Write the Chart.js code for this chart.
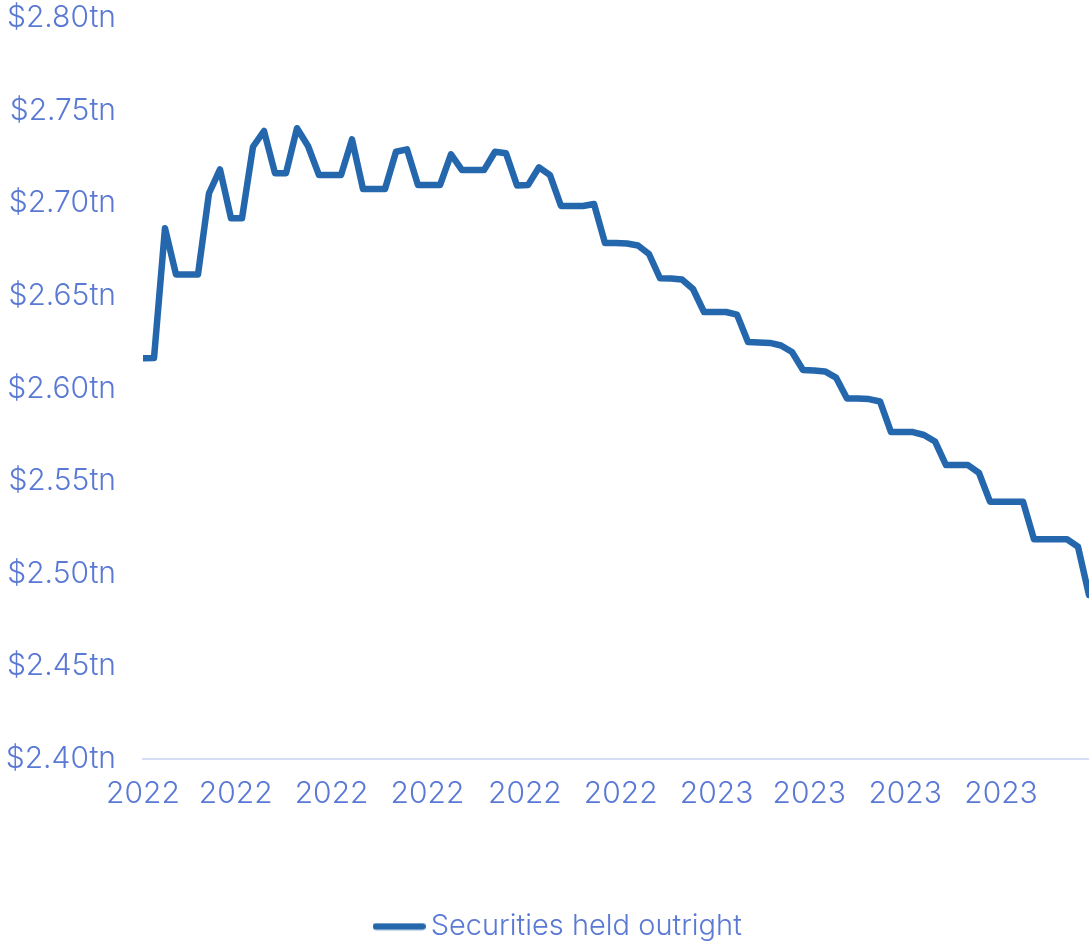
<!DOCTYPE html>
<html>
<head>
<meta charset="utf-8">
<title>Securities held outright</title>
<script src="https://cdn.jsdelivr.net/npm/chart.js@4/dist/chart.umd.min.js"></script>
<style>
    html, body { margin: 0; padding: 0; background: #ffffff; }
    #wrap { position: relative; width: 1089px; height: 944px; }
</style>
</head>
<body>
<div id="wrap"><canvas id="securitiesChart"></canvas></div>
<script>
// Weekly observations, first one on this date
const firstWeek = '2022-01-01';

// Securities held outright, $ trillions, one value per week
const securitiesHeld = [
    2.6163, 2.6165, 2.6865, 2.6616, 2.6616, 2.6616, 2.7054, 2.7183, 2.6919, 2.6919,
    2.7305, 2.7390, 2.7162, 2.7162, 2.7405, 2.7309, 2.7152, 2.7152, 2.7152, 2.7345,
    2.7077, 2.7077, 2.7077, 2.7278, 2.7291, 2.7098, 2.7098, 2.7098, 2.7264, 2.7179,
    2.7179, 2.7179, 2.7278, 2.7270, 2.7096, 2.7098, 2.7194, 2.7152, 2.6985, 2.6985,
    2.6985, 2.6996, 2.6785, 2.6785, 2.6783, 2.6772, 2.6726, 2.6595, 2.6594, 2.6588,
    2.6537, 2.6413, 2.6413, 2.6413, 2.6399, 2.6251, 2.6248, 2.6246, 2.6232, 2.6197,
    2.6100, 2.6097, 2.6092, 2.6059, 2.5946, 2.5946, 2.5943, 2.5930, 2.5765, 2.5765,
    2.5765, 2.5749, 2.5714, 2.5587, 2.5587, 2.5587, 2.5544, 2.5389, 2.5389, 2.5389,
    2.5389, 2.5186, 2.5186, 2.5186, 2.5186, 2.5146, 2.4885
];

// Axis ticks
const tickDates = [
    '2022-01-01', '2022-03-01', '2022-05-01', '2022-07-01', '2022-09-01',
    '2022-11-01', '2023-01-01', '2023-03-01', '2023-05-01', '2023-07-01'
];
const tickYears = ['2022', '2022', '2022', '2022', '2022', '2022', '2023', '2023', '2023', '2023'];
const yTicks = [2.40, 2.45, 2.50, 2.55, 2.60, 2.65, 2.70, 2.75, 2.80];

const DAY = 86400000;
const daysFromStart = d => (Date.parse(d) - Date.parse(firstWeek)) / DAY;

const LINE_BLUE = '#2467ad';
const TEXT_BLUE = '#5a79d4';
const AXIS_LINE = '#d3ddf3';
const FAMILY = 'Inter, "Open Sans", sans-serif';
const FONT = { family: FAMILY, size: 30, weight: 300 };
const LINE_WIDTH = 6.5;

// Legend marker: a short rounded stroke, wider than its legend box
function legendStroke() {
    const c = document.createElement('canvas');
    c.width = 53;
    c.height = 8;
    const g = c.getContext('2d');
    g.strokeStyle = LINE_BLUE;
    g.lineWidth = LINE_WIDTH;
    g.lineCap = 'round';
    g.beginPath();
    g.moveTo(LINE_WIDTH / 2, 4);
    g.lineTo(c.width - LINE_WIDTH / 2, 4);
    g.stroke();
    return c;
}

// Nudge the legend a little right of the canvas centre
const legendShift = {
    id: 'legendShift',
    afterLayout(chart) {
        chart.legend.left += 17.5;
        chart.legend.right += 17.5;
    }
};

const points = securitiesHeld.map((v, i) => ({ x: i * 7, y: v }));

new Chart(document.getElementById('securitiesChart'), {
    type: 'line',
    data: {
        datasets: [{
            label: 'Securities held outright',
            data: points,
            borderColor: LINE_BLUE,
            backgroundColor: LINE_BLUE,
            borderWidth: LINE_WIDTH,
            borderJoinStyle: 'round',
            borderCapStyle: 'round',
            pointRadius: 0,
            tension: 0
        }]
    },
    plugins: [legendShift],
    options: {
        responsive: true,
        maintainAspectRatio: false,
        animation: false,
        layout: {
            padding: { top: 18, right: 0, bottom: -7, left: 0 }
        },
        scales: {
            x: {
                type: 'linear',
                min: 0,
                max: (securitiesHeld.length - 1) * 7,
                afterBuildTicks: scale => {
                    scale.ticks = tickDates.map(d => ({ value: daysFromStart(d) }));
                },
                afterFit: scale => {
                    scale.height = 143;
                    scale.paddingLeft = 0;
                    scale.paddingRight = 0;
                },
                ticks: {
                    autoSkip: false,
                    maxRotation: 0,
                    padding: 17,
                    color: TEXT_BLUE,
                    font: FONT,
                    callback: (value, index) => tickYears[index]
                },
                grid: { display: false, drawTicks: false },
                border: { display: true, color: AXIS_LINE, width: 2 }
            },
            y: {
                min: 2.40,
                max: 2.80,
                afterBuildTicks: scale => {
                    scale.ticks = yTicks.map(v => ({ value: v }));
                },
                afterFit: scale => {
                    scale.width = 143;
                    scale.paddingTop = 0;
                    scale.paddingBottom = 0;
                },
                ticks: {
                    padding: 27,
                    color: TEXT_BLUE,
                    font: FONT,
                    callback: value => '$' + value.toFixed(2) + 'tn'
                },
                grid: { display: false, drawTicks: false },
                border: { display: false }
            }
        },
        plugins: {
            legend: {
                position: 'bottom',
                labels: {
                    usePointStyle: true,
                    pointStyle: legendStroke(),
                    pointStyleWidth: 34,
                    color: TEXT_BLUE,
                    font: { family: FAMILY, size: 29, weight: 300 },
                    padding: 10
                }
            },
            tooltip: { enabled: false }
        }
    }
});
</script>
</body>
</html>
